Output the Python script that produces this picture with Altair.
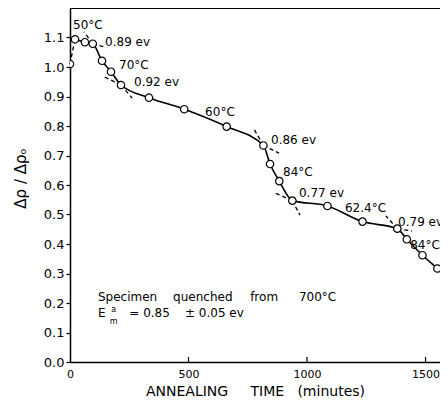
import altair as alt
import pandas as pd

# measured points: annealing time (minutes) vs resistivity ratio
time_min = [0, 21, 63, 96, 135, 173, 215, 333, 482, 661, 816, 844, 883, 938,
            1086, 1234, 1381, 1421, 1487, 1550]
ratio = [1.01, 1.094, 1.084, 1.079, 1.021, 0.984, 0.939, 0.896, 0.857, 0.798,
         0.734, 0.671, 0.613, 0.547, 0.529, 0.476, 0.452, 0.416, 0.362, 0.317]

# fitted curve (starts at second point, continues past right edge)
curve_t = time_min[1:] + [1600]
curve_v = ratio[1:] + [0.281]

# dashed extension segments at the slope breaks
seg_t1 = [0, 96, 96, 215, 215, 816, 816, 938, 938, 1381, 1381]
seg_v1 = [1.01, 1.079, 1.079, 0.939, 0.939, 0.734, 0.734, 0.547, 0.547, 0.452, 0.452]
seg_t2 = [21, 59, 152, 139, 262, 776, 882, 865, 970, 1333, 1443]
seg_v2 = [1.094, 1.119, 1.066, 0.969, 0.895, 0.790, 0.708, 0.573, 0.498, 0.495, 0.444]

# annotations along the curve
ann_text = ["50°C", "0.89 ev", "70°C", "0.92 ev", "60°C", "0.86 ev", "84°C",
            "0.77 ev", "62.4°C", "0.79 ev", "84°C"]
ann_t = [13, 148, 207, 270, 570, 848, 899, 966, 1160, 1384, 1435]
ann_v = [1.142, 1.085, 1.007, 0.949, 0.847, 0.753, 0.644, 0.573, 0.522, 0.475, 0.397]

# note text
note_text = ["Specimen", "quenched", "from", "700°C", "E", "= 0.85", "± 0.05 ev"]
note_t = [118, 435, 760, 966, 118, 250, 485]
note_v = [0.219, 0.219, 0.219, 0.219, 0.166, 0.166, 0.166]
small_text = ["a", "m"]
small_t = [174, 168]
small_v = [0.176, 0.134]

x_ticks = [0, 500, 1000, 1500]
y_ticks = [0.0, 0.1, 0.2, 0.3, 0.4, 0.5, 0.6, 0.7, 0.8, 0.9, 1.0, 1.1]

W, H = 370, 354
FONT = "DejaVu Sans"

pts = pd.DataFrame({"t": time_min, "v": ratio})
curve = pd.DataFrame({"t": curve_t, "v": curve_v})
segs = pd.DataFrame({"t1": seg_t1, "v1": seg_v1, "t2": seg_t2, "v2": seg_v2})
ann = pd.DataFrame({"label": ann_text, "t": ann_t, "v": ann_v})
notes = pd.DataFrame({"label": note_text, "t": note_t, "v": note_v})
small = pd.DataFrame({"label": small_text, "t": small_t, "v": small_v})
ticks = pd.DataFrame({"t": x_ticks[1:], "v0": [0] * 3, "v1": [0.017] * 3})

xs = alt.Scale(domain=[0, 1561], nice=False, zero=False)
ys = alt.Scale(domain=[0, 1.2], nice=False)

x_axis = alt.Axis(values=x_ticks, format="d", ticks=False, grid=False,
                  domainColor="black", domainWidth=1.5, labelFont=FONT,
                  labelFontSize=11, labelColor="black", labelPadding=6,
                  labelFlush=False, labelOverlap=False,
                  title="ANNEALING\u00a0\u00a0\u00a0\u00a0\u00a0TIME\u00a0\u00a0\u00a0(minutes)",
                  titleFont=FONT, titleFontSize=14, titleFontWeight="normal",
                  titleColor="black", titleX=185, titleY=29, titleBaseline="middle",
                  titleAnchor="middle", titleAlign="center")
y_axis = alt.Axis(values=y_ticks, format=".1f", grid=False, domainColor="black",
                  domainWidth=1.5, tickColor="black", tickSize=4, tickWidth=1.2,
                  labelFont=FONT, labelFontSize=13, labelColor="black", labelPadding=2,
                  labelFlush=False, labelOverlap=False,
                  title="Δρ / Δρₒ", titleFont=FONT, titleFontSize=15,
                  titleFontWeight="normal", titleColor="black", titleAngle=270,
                  titleX=-50, titleY=170, titleAlign="center", titleBaseline="middle")

line = alt.Chart(curve).mark_line(color="black", strokeWidth=1.6,
                                  interpolate="monotone", clip=True).encode(
    x=alt.X("t:Q", scale=xs, axis=x_axis),
    y=alt.Y("v:Q", scale=ys, axis=y_axis))

points = alt.Chart(pts).mark_point(shape="circle", size=55, filled=False, fill="white",
                                   fillOpacity=1, stroke="black", strokeWidth=1.2,
                                   opacity=1, clip=True).encode(
    x=alt.X("t:Q", scale=xs, axis=x_axis),
    y=alt.Y("v:Q", scale=ys, axis=y_axis),
)

dashes = alt.Chart(segs).mark_rule(color="black", strokeWidth=1.3,
                                   strokeDash=[4, 3]).encode(
    x=alt.X("t1:Q", scale=xs, axis=x_axis), y=alt.Y("v1:Q", scale=ys, axis=y_axis),
    x2="t2:Q", y2="v2:Q")

xticks = alt.Chart(ticks).mark_rule(color="black", strokeWidth=1.2).encode(
    x=alt.X("t:Q", scale=xs, axis=x_axis), y=alt.Y("v0:Q", scale=ys, axis=y_axis),
    y2="v1:Q")

top = alt.Chart(pts).mark_rule(color="black", strokeWidth=2).encode(
    x=alt.value(0), x2=alt.value(W), y=alt.value(0))

def text_layer(df, size):
    return alt.Chart(df).mark_text(align="left", baseline="middle", font=FONT,
                                   fontSize=size, color="black").encode(
        x=alt.X("t:Q", scale=xs, axis=x_axis), y=alt.Y("v:Q", scale=ys, axis=y_axis),
        text="label:N")

labels = text_layer(ann, 12)
note = text_layer(notes, 12)
note_small = text_layer(small, 8)

chart = alt.layer(line, dashes, xticks, top, points, labels, note, note_small).properties(
    width=W, height=H,
    autosize=alt.AutoSizeParams(type="none"),
    padding={"left": 62, "top": 0, "right": 0, "bottom": 37},
).configure_view(stroke=None).configure(background="white")

chart.save("out.html", embed_options={"renderer": "svg", "actions": False})
